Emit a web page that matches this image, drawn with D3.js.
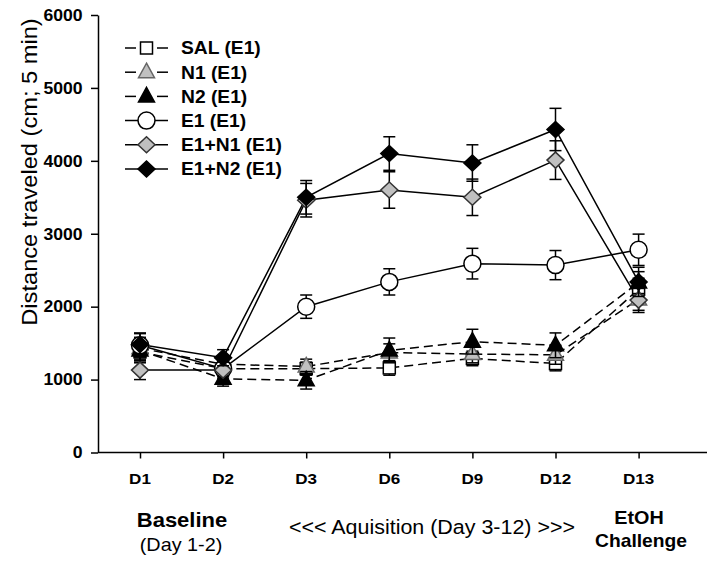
<!DOCTYPE html>
<html>
<head>
<meta charset="utf-8">
<script src="https://cdn.jsdelivr.net/npm/d3@7"></script>
<style>
  html, body { margin: 0; padding: 0; background: #fff; }
  svg { display: block; font-family: Arial, "Liberation Sans", sans-serif; }
</style>
</head>
<body>
<svg id="chart" width="714" height="564"></svg>
<script>
// ---------- data ----------
const days = ["D1", "D2", "D3", "D6", "D9", "D12", "D13"];
const yTicks = [0, 1000, 2000, 3000, 4000, 5000, 6000];
const seriesNames = ["SAL (E1)", "N1 (E1)", "N2 (E1)", "E1 (E1)", "E1+N1 (E1)", "E1+N2 (E1)"];

const salMean  = [1380, 1150, 1150, 1160, 1290, 1220, 2240];
const salErr   = [140, 100, 90, 100, 100, 100, 150];
const n1Mean   = [1430, 1210, 1180, 1370, 1350, 1340, 2100];
const n1Err    = [150, 100, 100, 120, 120, 130, 150];
const n2Mean   = [1400, 1010, 990, 1400, 1520, 1470, 2330];
const n2Err    = [170, 100, 120, 170, 170, 170, 150];
const e1Mean   = [1470, 1150, 2000, 2340, 2590, 2570, 2780];
const e1Err    = [160, 110, 160, 180, 210, 200, 215];
const e1n1Mean = [1130, 1130, 3460, 3600, 3500, 4010, 2090];
const e1n1Err  = [130, 110, 230, 250, 250, 265, 170];
const e1n2Mean = [1480, 1300, 3500, 4100, 3970, 4430, 2340];
const e1n2Err  = [160, 110, 230, 230, 250, 290, 200];

const series = [
  { name: seriesNames[0], mean: salMean,  err: salErr,  sym: "square",   fill: "#ffffff", stroke: "#000", dashed: true },
  { name: seriesNames[1], mean: n1Mean,   err: n1Err,   sym: "triangle", fill: "#c0c0c0", stroke: "#666", dashed: true },
  { name: seriesNames[2], mean: n2Mean,   err: n2Err,   sym: "triangle", fill: "#000000", stroke: "#000", dashed: true },
  { name: seriesNames[3], mean: e1Mean,   err: e1Err,   sym: "circle",   fill: "#ffffff", stroke: "#000", dashed: false },
  { name: seriesNames[4], mean: e1n1Mean, err: e1n1Err, sym: "diamond",  fill: "#c0c0c0", stroke: "#333", dashed: false },
  { name: seriesNames[5], mean: e1n2Mean, err: e1n2Err, sym: "diamond",  fill: "#000000", stroke: "#000", dashed: false }
];

// ---------- layout ----------
const svg = d3.select("#chart");
const SX = 1.1; // horizontal text stretch
const x = d3.scaleLinear().domain([0, days.length - 1]).range([140, 638.6]);
const y = d3.scaleLinear().domain([0, 6000]).range([452.5, 15]);
const axisLeftX = 98, axisRightX = 707;

function txt(g, xx, yy, s, size, weight, anchor, rot) {
  return g.append("text")
    .attr("transform", `translate(${xx},${yy})` + (rot ? ` rotate(${rot})` : "") + ` scale(${SX},1)`)
    .attr("text-anchor", anchor || "middle")
    .attr("font-family", "Arial, 'Liberation Sans', sans-serif")
    .attr("font-size", size)
    .attr("font-weight", weight || "normal")
    .attr("fill", "#000")
    .text(s);
}

// ---------- axes (ticks via d3 axes, labels as text from the arrays) ----------
const gx = svg.append("g").attr("transform", `translate(0,${y(0)})`)
  .call(d3.axisBottom(x).tickValues(d3.range(days.length)).tickFormat("").tickSize(6).tickSizeOuter(0));
gx.select(".domain").remove();
gx.selectAll(".tick text").remove();
gx.append("line").attr("x1", axisLeftX).attr("x2", axisRightX).attr("y1", 0).attr("y2", 0)
  .attr("stroke", "#000").attr("stroke-width", 1.5);
gx.selectAll(".tick line").attr("stroke-width", 1.5);

const gy = svg.append("g").attr("transform", `translate(${axisLeftX},0)`)
  .call(d3.axisLeft(y).tickValues(yTicks).tickFormat("").tickSize(7).tickSizeOuter(0));
gy.selectAll(".tick text").remove();
gy.select(".domain").attr("stroke-width", 1.5);
gy.selectAll(".tick line").attr("stroke-width", 1.5);

const labels = svg.append("g");
days.forEach((d, i) => txt(labels, x(i), 483.5, d, 15.5, "bold", "middle"));
yTicks.forEach(v => txt(labels, 82.5, y(v) + 5.8, String(v), 16, "bold", "end"));

// y title
txt(svg, 36.5, 172, "Distance traveled (cm; 5 min)", 21.5, "normal", "middle", -90);

// bottom phase labels
txt(svg, 182, 526.5, "Baseline", 20, "bold");
txt(svg, 181, 551, "(Day 1-2)", 18, "normal");
txt(svg, 432, 533.5, "<<< Aquisition (Day 3-12) >>>", 19.5, "normal");
txt(svg, 639, 524, "EtOH", 18, "bold");
txt(svg, 641, 546.5, "Challenge", 17.5, "bold");

// ---------- symbols ----------
function drawSymbol(g, s, cx, cy) {
  let el;
  if (s.sym === "circle") {
    el = g.append("circle").attr("cx", cx).attr("cy", cy).attr("r", 8.5);
  } else if (s.sym === "square") {
    el = g.append("rect").attr("x", cx - 6).attr("y", cy - 6).attr("width", 12).attr("height", 12);
  } else if (s.sym === "triangle") {
    el = g.append("path").attr("d", `M${cx},${cy - 9}L${cx + 8},${cy + 5.5}L${cx - 8},${cy + 5.5}Z`);
  } else {
    el = g.append("path").attr("d", `M${cx},${cy - 8}L${cx + 8.5},${cy}L${cx},${cy + 8}L${cx - 8.5},${cy}Z`);
  }
  el.attr("fill", s.fill).attr("stroke", s.stroke).attr("stroke-width", 1.5);
}

// ---------- lines ----------
const line = d3.line().x((d, i) => x(i)).y(d => y(d));
const gl = svg.append("g");
series.forEach(s => {
  gl.append("path").attr("d", line(s.mean)).attr("fill", "none")
    .attr("stroke", "#000").attr("stroke-width", 1.5)
    .attr("stroke-dasharray", s.dashed ? "9,5" : null);
});

// ---------- error bars + markers ----------
series.forEach(s => {
  const g = svg.append("g");
  s.mean.forEach((v, i) => {
    const cx = x(i), e = s.err[i];
    g.append("line").attr("x1", cx).attr("x2", cx).attr("y1", y(v - e)).attr("y2", y(v + e))
      .attr("stroke", "#000").attr("stroke-width", 1.5);
    [v - e, v + e].forEach(t => {
      g.append("line").attr("x1", cx - 6).attr("x2", cx + 6).attr("y1", y(t)).attr("y2", y(t))
        .attr("stroke", "#000").attr("stroke-width", 1.5);
    });
  });
  s.mean.forEach((v, i) => drawSymbol(g, s, x(i), y(v)));
});

// ---------- legend ----------
const lg = svg.append("g");
series.forEach((s, k) => {
  const cy = 48 + k * 24.2;
  if (s.dashed) {
    lg.append("line").attr("x1", 125).attr("x2", 136).attr("y1", cy).attr("y2", cy).attr("stroke", "#000").attr("stroke-width", 1.5);
    lg.append("line").attr("x1", 157).attr("x2", 168).attr("y1", cy).attr("y2", cy).attr("stroke", "#000").attr("stroke-width", 1.5);
  } else {
    lg.append("line").attr("x1", 125).attr("x2", 168).attr("y1", cy).attr("y2", cy).attr("stroke", "#000").attr("stroke-width", 1.5);
  }
  drawSymbol(lg, s, 146.5, cy);
  txt(lg, 181, cy + 6.3, s.name, 17.5, "bold", "start");
});
</script>
</body>
</html>
